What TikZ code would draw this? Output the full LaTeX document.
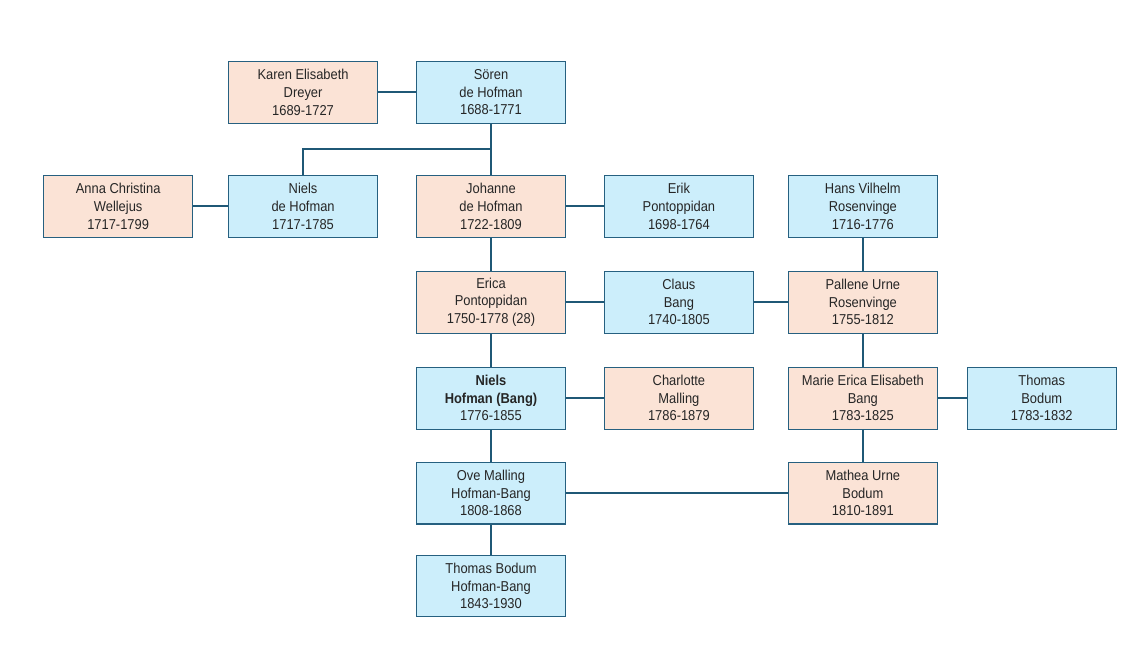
\documentclass[tikz,border=0pt]{standalone}
\usepackage{fontspec}
\setmainfont{Liberation Sans}[FakeStretch=0.9]
\usepackage{tikz}
\usetikzlibrary{positioning,calc}

\definecolor{herfill}{RGB}{251,227,214}
\definecolor{hisfill}{RGB}{204,238,251}
\definecolor{boxline}{RGB}{38,96,128}
\definecolor{tieline}{RGB}{31,88,118}

\tikzset{
    person/.style={draw=boxline, line width=0.8pt, minimum width=3.72cm, minimum height=1.545cm,
                   inner sep=0pt, align=center, text=black!85,
                   font=\fontsize{10.2}{12.5}\selectfont},
    her/.style={person, fill=herfill},
    him/.style={person, fill=hisfill},
    tie/.style={draw=tieline, line width=1.4pt}
}

\begin{document}
\begin{tikzpicture}
        \useasboundingbox (0,0) rectangle (28.65,16.5);

        \node[him] (soren) at (12.275,14.19) {Sören\\de Hofman\\1688-1771};
        \node[her, left=0.95cm of soren] (karen) {Karen Elisabeth\\Dreyer\\1689-1727};

        \node[her, below=1.275cm of soren] (johanne) {Johanne\\de Hofman\\1722-1809};
        \node[him, left=0.95cm of johanne] (niels) {Niels\\de Hofman\\1717-1785};
        \node[her, left=0.875cm of niels] (anna) {Anna Christina\\Wellejus\\1717-1799};
        \node[him, right=0.95cm of johanne] (erik) {Erik\\Pontoppidan\\1698-1764};
        \node[him, right=0.85cm of erik] (hans) {Hans Vilhelm\\Rosenvinge\\1716-1776};

        \node[her, below=0.825cm of johanne] (erica) {Erica\\Pontoppidan\\1750-1778 (28)};
        \node[him, right=0.95cm of erica] (claus) {Claus\\Bang\\1740-1805};
        \node[her, right=0.85cm of claus] (pallene) {Pallene Urne\\Rosenvinge\\1755-1812};

        \node[him, below=0.825cm of erica] (nielsb) {\textbf{Niels}\\\textbf{Hofman (Bang)}\\1776-1855};
        \node[her, right=0.95cm of nielsb] (charlotte) {Charlotte\\Malling\\1786-1879};
        \node[her, right=0.85cm of charlotte] (marie) {Marie Erica Elisabeth\\Bang\\1783-1825};
        \node[him, right=0.725cm of marie] (thomas) {Thomas\\Bodum\\1783-1832};

        \node[him, below=0.8cm of nielsb] (ove) {Ove Malling\\Hofman-Bang\\1808-1868};
        \node[her, below=0.8cm of marie] (mathea) {Mathea Urne\\Bodum\\1810-1891};

        \node[him, below=0.75cm of ove] (thomasb) {Thomas Bodum\\Hofman-Bang\\1843-1930};

        % couples
        \path[tie] (karen) -- (soren);
        \path[tie] (anna) -- (niels);
        \path[tie] (johanne) -- (erik);
        \path[tie] (erica) -- (claus) -- (pallene);
        \path[tie] (nielsb) -- (charlotte);
        \path[tie] (marie) -- (thomas);
        \path[tie] (ove) -- (mathea);

        % descent
        \coordinate (fork) at ($(soren.south)!0.5!(johanne.north)$);
        \path[tie] (soren) -- (johanne);
        \path[tie] (fork) -| (niels.north);
        \path[tie] (johanne) -- (erica) -- (nielsb) -- (ove) -- (thomasb);
        \path[tie] (hans) -- (pallene) -- (marie) -- (mathea);
\end{tikzpicture}
\end{document}
